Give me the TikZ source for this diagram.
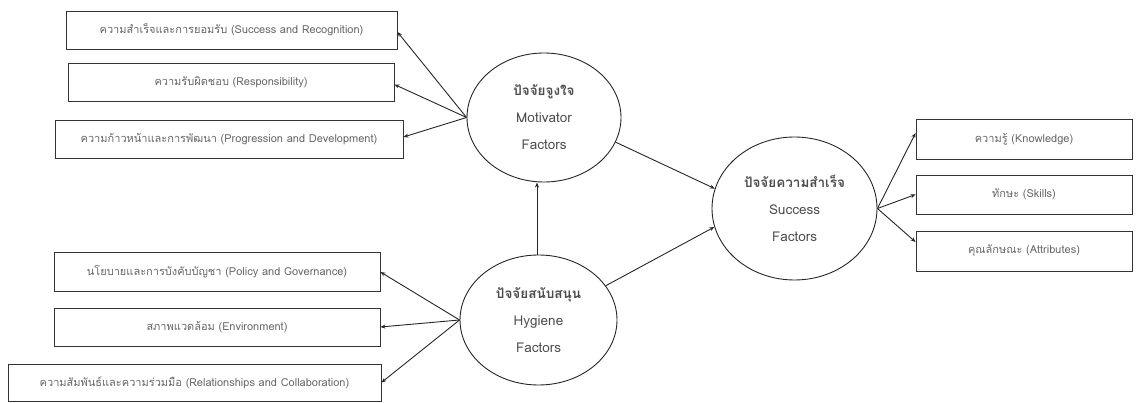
\documentclass[tikz,border=0pt]{standalone}
\usepackage{fontspec}
\newfontfamily\thai[Script=Thai]{Loma}
\usetikzlibrary{arrows.meta,shapes.geometric}
\begin{document}
\begin{tikzpicture}[x=1pt,y=-1pt,
  box/.style={draw=black!80,line width=0.9pt,minimum height=38pt,inner sep=0pt,font=\thai\fontsize{11}{13}\selectfont,text=black!60},
  oval/.style={draw=black!85,ellipse,line width=0.9pt,inner sep=0pt,align=center,font=\thai\fontsize{13.5}{27}\selectfont,text=black!70},
  arr/.style={draw=black!85,line width=0.9pt,-{Stealth[length=5pt,width=4pt]}}]
\useasboundingbox (0,0) rectangle (1137,403);
% left boxes
\node[box,minimum width=331pt] (b1) at (231.5,30) {ความสำเร็จและการยอมรับ (Success and Recognition)};
\node[box,minimum width=326pt] (b2) at (231,82.5) {ความรับผิดชอบ (Responsibility)};
\node[box,minimum width=348pt] (b3) at (229,139) {ความก้าวหน้าและการพัฒนา (Progression and Development)};
\node[box,minimum width=326pt,minimum height=39pt] (b4) at (217,272) {นโยบายและการบังคับบัญชา (Policy and Governance)};
\node[box,minimum width=326pt] (b5) at (217,327) {สภาพแวดล้อม (Environment)};
\node[box,minimum width=373pt,minimum height=37pt] (b6) at (194.5,382.5) {ความสัมพันธ์และความร่วมมือ (Relationships and Collaboration)};
% right boxes
\node[box,minimum width=216pt,minimum height=40pt] (k) at (1024,139) {ความรู้ (Knowledge)};
\node[box,minimum width=216pt,minimum height=39pt] (s) at (1024,194.5) {ทักษะ (Skills)};
\node[box,minimum width=216pt,minimum height=40pt] (a) at (1024,251) {คุณลักษณะ (Attributes)};
% ellipses
\node[oval,minimum width=154pt,minimum height=129pt] (mot) at (544,117.5) {\textbf{ปัจจัยจูงใจ}\\Motivator\\Factors};
\node[oval,minimum width=157pt,minimum height=130pt] (hyg) at (538.5,320) {\textbf{ปัจจัยสนับสนุน}\\Hygiene\\Factors};
\node[oval,minimum width=165pt,minimum height=143pt] (suc) at (794.5,208.5) {\textbf{ปัจจัยความสำเร็จ}\\Success\\Factors};
\coordinate (vt) at (537,182.5);
\coordinate (vb) at (537,255);
% arrows
\draw[arr] (mot.west) -- ([yshift=-2pt]b1.east);
\draw[arr] (mot.west) -- ([yshift=-2pt]b2.east);
\draw[arr] (mot.west) -- ([yshift=2pt]b3.east);
\draw[arr] (hyg.west) -- (b4.east);
\draw[arr] (hyg.west) -- (b5.east);
\draw[arr] (hyg.west) -- (b6.east);
\draw[arr] (vb) -- (vt);
\draw[arr] (mot.-19) -- (suc.166);
\draw[arr] (hyg.27) -- (suc.193);
\draw[arr] (suc.east) -- ([yshift=6pt]k.west);
\draw[arr] (suc.east) -- (s.west);
\draw[arr] (suc.east) -- ([yshift=9pt]a.west);
\end{tikzpicture}
\end{document}
